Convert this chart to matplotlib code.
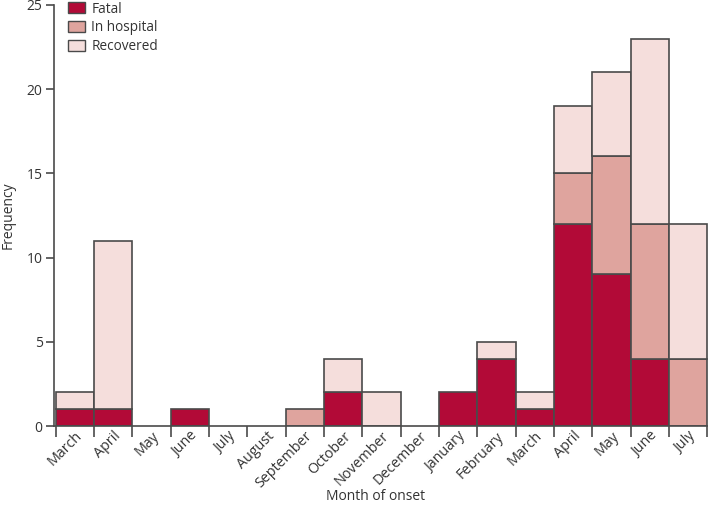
import numpy as np
import matplotlib.pyplot as plt
from matplotlib.patches import Patch

plt.rcParams['font.family'] = ['Open Sans', 'DejaVu Sans']

months = ["March", "April", "May", "June", "July", "August", "September",
          "October", "November", "December", "January", "February",
          "March", "April", "May", "June", "July"]
fatal = [1, 1, 0, 1, 0, 0, 0, 2, 0, 0, 2, 4, 1, 12, 9, 4, 0]
in_hospital = [0, 0, 0, 0, 0, 0, 1, 0, 0, 0, 0, 0, 0, 3, 7, 8, 4]
recovered = [1, 10, 0, 0, 0, 0, 0, 2, 2, 0, 0, 1, 1, 4, 5, 11, 8]

c_fatal = "#b20a37"
c_hosp = "#dfa49e"
c_rec = "#f5dedc"
edge = "#4a4a4a"
txt = "#333333"

fig = plt.figure(figsize=(7.08, 5.08), dpi=100)
ax = fig.add_axes([0.076, 0.1614, 0.924, 0.829])

x = np.arange(len(months))
fatal = np.array(fatal)
in_hospital = np.array(in_hospital)
recovered = np.array(recovered)

kw = dict(width=1.0, edgecolor=edge, linewidth=1.2)
# draw only non-zero segments so empty months have no outline
for vals, bottom, col in [(fatal, 0 * fatal, c_fatal),
                          (in_hospital, fatal, c_hosp),
                          (recovered, fatal + in_hospital, c_rec)]:
    m = vals > 0
    ax.bar(x[m], vals[m], bottom=bottom[m], color=col, **kw)

ax.set_xlim(-0.55, len(months) - 0.48)
ax.set_ylim(0, 25)
ax.set_yticks([0, 5, 10, 15, 20, 25])
ax.set_xticks(x)
ax.set_xticklabels(months, rotation=45, ha="right", rotation_mode="anchor",
                   fontsize=10.3, color=txt)
ax.set_xticks(np.arange(-0.5, len(months) + 0.5, 1), minor=True)
ax.tick_params(axis="x", which="major", length=0, pad=2)
ax.tick_params(axis="x", which="minor", length=8, width=1.2, color=edge)
ax.tick_params(axis="y", length=6, width=1.2, color=edge, labelsize=10,
               labelcolor=txt, pad=2)

for s in ["top", "right"]:
    ax.spines[s].set_visible(False)
for s in ["left", "bottom"]:
    ax.spines[s].set_color(edge)
    ax.spines[s].set_linewidth(1.2)

ax.set_ylabel("Frequency", fontsize=10, color=txt, labelpad=8)
fig.text(0.53, 1 - 497 / 508, "Month of onset", fontsize=10, color=txt,
         ha="center", va="center")

handles = [Patch(facecolor=c, edgecolor=edge, linewidth=1.0)
           for c in (c_fatal, c_hosp, c_rec)]
ax.legend(handles, ["Fatal", "In hospital", "Recovered"], loc="upper left",
          bbox_to_anchor=(0.003, 1.037), frameon=False, fontsize=9.8,
          handlelength=1.25, handleheight=0.85, handletextpad=0.45,
          labelspacing=0.27, labelcolor=txt)

fig.savefig("out.png", dpi=100)
